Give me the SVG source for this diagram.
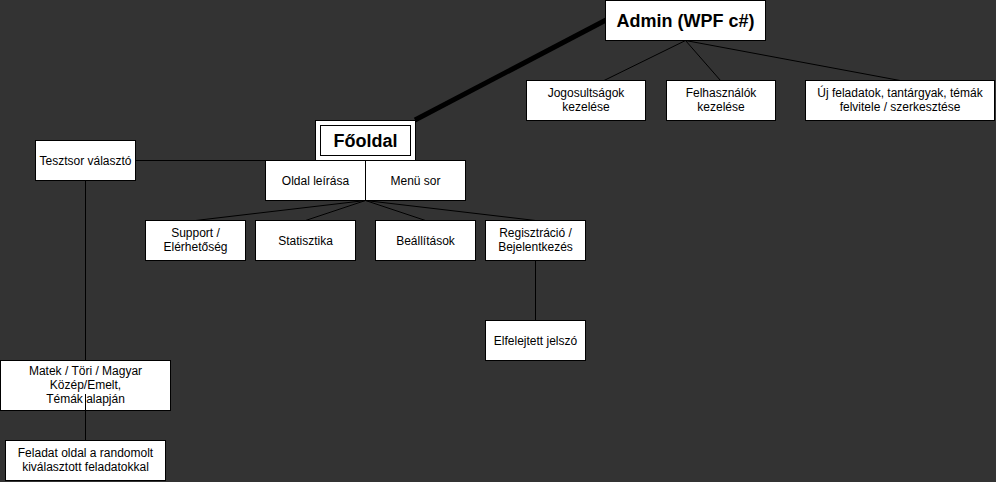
<svg xmlns="http://www.w3.org/2000/svg" width="996" height="482" viewBox="0 0 996 482">
<style>
.bg{fill:#333333}
.box{fill:#ffffff;stroke:#000000;stroke-width:1}
.t{font-family:"Liberation Sans",Arial,sans-serif;font-size:12px;fill:#000000;text-anchor:middle}
.b{font-family:"Liberation Sans",Arial,sans-serif;font-size:18px;font-weight:bold;fill:#000000;text-anchor:middle}
.e{stroke:#000000;stroke-width:1;fill:none}
.thick{stroke:#000000;stroke-width:5;fill:none}
</style>
<rect class="bg" x="0" y="0" width="996" height="482"/>
<g id="connectors">
<line class="thick" x1="606" y1="20" x2="415" y2="120"/>
<line class="e" x1="685.5" y1="40.5" x2="604" y2="80.5"/>
<line class="e" x1="685.5" y1="40.5" x2="720.5" y2="80.5"/>
<line class="e" x1="685.5" y1="40.5" x2="900" y2="80.5"/>
<line class="e" x1="135.5" y1="160.5" x2="265.5" y2="160.5"/>
<line class="e" x1="365.5" y1="200.5" x2="195.5" y2="220.5"/>
<line class="e" x1="365.5" y1="200.5" x2="305.5" y2="220.5"/>
<line class="e" x1="365.5" y1="200.5" x2="425.5" y2="220.5"/>
<line class="e" x1="365.5" y1="200.5" x2="535.5" y2="220.5"/>
<line class="e" x1="535.5" y1="260.5" x2="535.5" y2="320.5"/>
<line class="e" x1="85.5" y1="180.5" x2="85.5" y2="360.5"/>
</g>
<g id="admin">
<rect class="box" x="605.5" y="0.5" width="160" height="40"/>
<text class="b" x="685.5" y="27">Admin (WPF c#)</text>
</g>
<g id="jogosultsagok">
<rect class="box" x="526.5" y="80.5" width="119" height="40"/>
<text class="t" x="586" y="97">Jogosultságok</text>
<text class="t" x="586" y="111">kezelése</text>
</g>
<g id="felhasznalok">
<rect class="box" x="666.5" y="80.5" width="109" height="40"/>
<text class="t" x="721" y="97">Felhasználók</text>
<text class="t" x="721" y="111">kezelése</text>
</g>
<g id="uj-feladatok">
<rect class="box" x="805.5" y="80.5" width="189" height="40"/>
<text class="t" x="900" y="97">Új feladatok, tantárgyak, témák</text>
<text class="t" x="900" y="111">felvitele / szerkesztése</text>
</g>
<g id="fooldal">
<rect class="box" x="315.5" y="120.5" width="100" height="40"/>
<rect class="box" x="320.5" y="125.5" width="90" height="30"/>
<text class="b" x="365.5" y="147">Főoldal</text>
</g>
<g id="tesztsor">
<rect class="box" x="35.5" y="140.5" width="100" height="40"/>
<text class="t" x="85.5" y="164.5">Tesztsor választó</text>
</g>
<g id="oldal-leirasa">
<rect class="box" x="265.5" y="160.5" width="100" height="40"/>
<text class="t" x="315.5" y="184.5">Oldal leírása</text>
</g>
<g id="menu-sor">
<rect class="box" x="365.5" y="160.5" width="100" height="40"/>
<text class="t" x="415.5" y="184.5">Menü sor</text>
</g>
<g id="support">
<rect class="box" x="145.5" y="220.5" width="100" height="40"/>
<text class="t" x="195.5" y="237">Support /</text>
<text class="t" x="195.5" y="251">Elérhetőség</text>
</g>
<g id="statisztika">
<rect class="box" x="255.5" y="220.5" width="100" height="40"/>
<text class="t" x="305.5" y="244.5">Statisztika</text>
</g>
<g id="beallitasok">
<rect class="box" x="375.5" y="220.5" width="100" height="40"/>
<text class="t" x="425.5" y="244.5">Beállítások</text>
</g>
<g id="regisztracio">
<rect class="box" x="485.5" y="220.5" width="100" height="40"/>
<text class="t" x="535.5" y="237">Regisztráció /</text>
<text class="t" x="535.5" y="251">Bejelentkezés</text>
</g>
<g id="elfelejtett">
<rect class="box" x="485.5" y="320.5" width="100" height="40"/>
<text class="t" x="535.5" y="344.5">Elfelejtett jelszó</text>
</g>
<g id="matek">
<rect class="box" x="0.5" y="360.5" width="170" height="50"/>
<text class="t" x="85.5" y="375">Matek / Töri / Magyar</text>
<text class="t" x="85.5" y="389">Közép/Emelt,</text>
<text class="t" x="85.5" y="403">Témák alapján</text>
</g>
<g id="connector-matek-feladat">
<line class="e" x1="85.5" y1="394" x2="85.5" y2="440.5"/>
</g>
<g id="feladat">
<rect class="box" x="5.5" y="440.5" width="160" height="40"/>
<text class="t" x="85.5" y="457">Feladat oldal a randomolt</text>
<text class="t" x="85.5" y="471">kiválasztott feladatokkal</text>
</g>
</svg>
